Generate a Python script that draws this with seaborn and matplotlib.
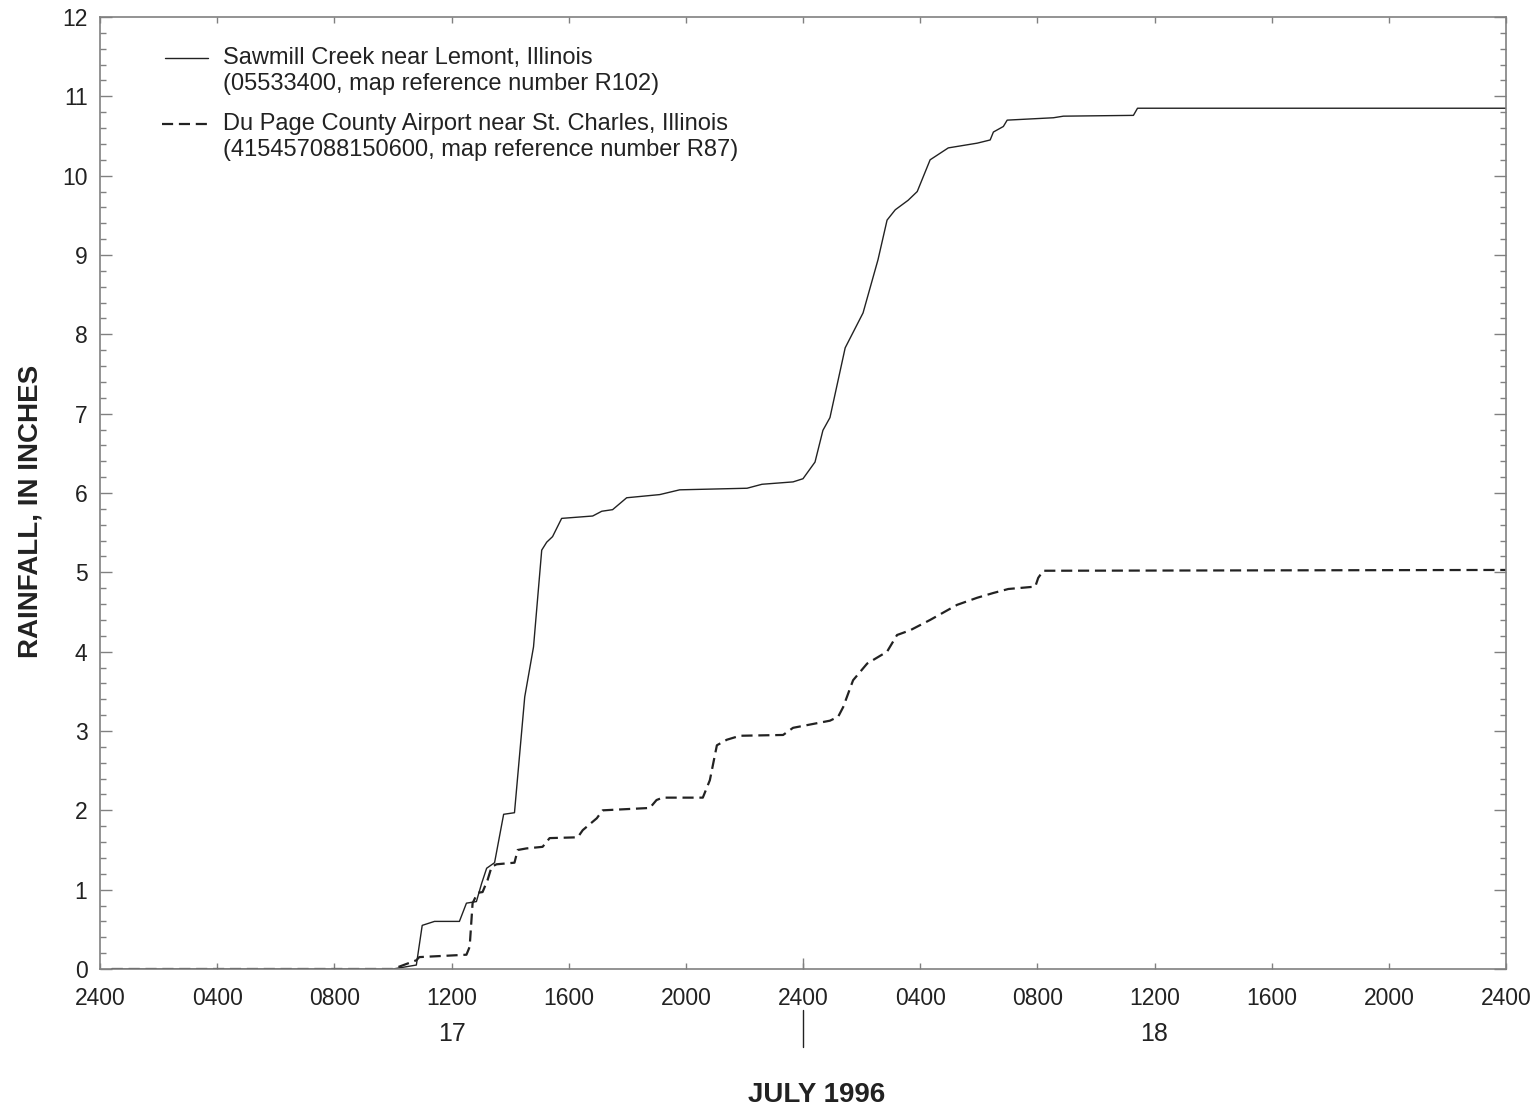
import numpy as np
import pandas as pd
import matplotlib
matplotlib.use('Agg')
import matplotlib.pyplot as plt
import seaborn as sns
from matplotlib.lines import Line2D
from matplotlib.ticker import MultipleLocator, FixedLocator
import matplotlib.transforms as mtransforms

# %%
# data: hours since 2400 July 16, cumulative rainfall in inches
sawmill_hours = [0.4, 10.0, 10.8, 11.0, 11.42, 12.27, 12.51, 12.85, 13.03, 13.2,
                 13.47, 13.78, 14.15, 14.5, 14.8, 15.08, 15.25, 15.45, 15.76, 16.82,
                 17.13, 17.5, 17.98, 19.11, 19.79, 22.09, 22.6, 23.66, 24.0, 24.41,
                 24.68, 24.92, 25.44, 26.05, 26.56, 26.87, 27.15, 27.59, 27.9, 28.34,
                 28.96, 29.95, 30.39, 30.5, 30.84, 30.97, 32.55, 32.89, 35.28, 35.42, 48.0]
sawmill_rain = [0, 0, 0.05, 0.55, 0.6, 0.6, 0.83, 0.85, 1.08, 1.27,
                1.34, 1.95, 1.97, 3.43, 4.06, 5.28, 5.38, 5.45, 5.68, 5.71,
                5.77, 5.79, 5.94, 5.98, 6.04, 6.06, 6.11, 6.14, 6.18, 6.39,
                6.79, 6.95, 7.83, 8.27, 8.94, 9.44, 9.57, 9.69, 9.8, 10.2,
                10.35, 10.41, 10.45, 10.55, 10.62, 10.7, 10.73, 10.75, 10.76, 10.85, 10.85]

dupage_hours = [0.4, 10.0, 10.8, 10.9, 12.51, 12.62, 12.72, 12.89, 13.06, 13.23,
                13.37, 13.54, 14.15, 14.26, 14.56, 15.11, 15.35, 16.31, 16.48, 16.96,
                17.16, 18.77, 19.0, 19.21, 20.58, 20.82, 21.06, 21.4, 21.85, 23.32,
                23.66, 24.92, 25.2, 25.37, 25.71, 26.19, 26.87, 27.21, 27.66, 28.34,
                29.26, 29.95, 30.5, 31.01, 31.93, 32.03, 32.2, 48.0]
dupage_rain = [0, 0, 0.11, 0.15, 0.18, 0.28, 0.83, 0.96, 0.97, 1.12,
               1.29, 1.32, 1.34, 1.5, 1.52, 1.54, 1.65, 1.66, 1.75, 1.9,
               2.0, 2.03, 2.13, 2.16, 2.16, 2.38, 2.82, 2.89, 2.94, 2.95,
               3.04, 3.13, 3.18, 3.3, 3.64, 3.85, 4.0, 4.21, 4.27, 4.4,
               4.59, 4.68, 4.74, 4.79, 4.82, 4.93, 5.02, 5.03]

x_ticks = list(range(0, 49, 4))
x_ticklabels = ['2400', '0400', '0800', '1200', '1600', '2000', '2400',
                '0400', '0800', '1200', '1600', '2000', '2400']
day_labels = ['17', '18']
day_centers = [12, 36]

sawmill_label = ['Sawmill Creek near Lemont, Illinois',
                 '(05533400, map reference number R102)']
dupage_label = ['Du Page County Airport near St. Charles, Illinois',
                '(415457088150600, map reference number R87)']

# %%
sns.set_style('ticks')
plt.rcParams['font.family'] = ['Liberation Sans', 'DejaVu Sans']

ink = '#222222'
spine = '#808080'

df_saw = pd.DataFrame({'hours': sawmill_hours, 'rain': sawmill_rain})
df_dup = pd.DataFrame({'hours': dupage_hours, 'rain': dupage_rain})

fig = plt.figure(figsize=(15.35, 11.1), dpi=100)
ax = fig.add_axes([100 / 1535, 141 / 1110, 1406 / 1535, 952 / 1110])

sns.lineplot(data=df_saw, x='hours', y='rain', ax=ax, color=ink, linewidth=1.0,
             estimator=None, sort=False)
sns.lineplot(data=df_dup, x='hours', y='rain', ax=ax, color=ink, linewidth=1.6,
             linestyle=(0, (5.0, 2.6)), estimator=None, sort=False)

ax.set_xlim(0, 48)
ax.set_ylim(0, 12)
ax.set_xlabel('')
ax.set_ylabel('')

for s in ax.spines.values():
    s.set_color(spine)
    s.set_linewidth(1.2)

ax.set_xticks(x_ticks)
ax.set_xticklabels(x_ticklabels)
ax.xaxis.remove_overlapping_locs = False
ax.xaxis.set_minor_locator(FixedLocator([24]))
ax.yaxis.set_major_locator(MultipleLocator(1))
ax.yaxis.set_minor_locator(MultipleLocator(0.2))

ax.tick_params(axis='x', which='major', direction='in', length=4.5, width=1.0,
               color=spine, top=True, bottom=True, labelsize=16.5, pad=13, labelcolor=ink)
ax.tick_params(axis='x', which='minor', direction='in', length=8, width=1.0,
               color=spine, top=False, bottom=True)
ax.tick_params(axis='y', which='major', direction='in', length=8.5, width=1.0,
               color=spine, left=True, right=True, labelsize=16.5, pad=9, labelcolor=ink)
ax.tick_params(axis='y', which='minor', direction='in', length=4.3, width=1.0,
               color=spine, left=True, right=True)

# day labels and the separator under the axis
trans = mtransforms.blended_transform_factory(ax.transData, ax.transAxes)
for d, c in zip(day_labels, day_centers):
    ax.text(c, -65 / 952, d, transform=trans, ha='center', va='center',
            fontsize=18, color=ink)
ax.add_line(Line2D([24, 24], [-41 / 952, -78 / 952], transform=trans, color=ink,
                   linewidth=1.0, clip_on=False))

# legend drawn by hand so the line sits beside the first row
def ax_x(px):
    return (px - 100) / 1406

def ax_y(py):
    return (969 - py) / 952

ax.add_line(Line2D([ax_x(165), ax_x(208)], [ax_y(58), ax_y(58)], transform=ax.transAxes,
                   color=ink, linewidth=1.0))
ax.add_line(Line2D([ax_x(162), ax_x(208)], [ax_y(124), ax_y(124)], transform=ax.transAxes,
                   color=ink, linewidth=1.6, linestyle=(0, (5.0, 2.6))))
for lbl, y0 in [(sawmill_label, 58), (dupage_label, 124)]:
    ax.text(ax_x(223), ax_y(y0), lbl[0], transform=ax.transAxes, ha='left',
            va='center', fontsize=17, color=ink)
    ax.text(ax_x(223), ax_y(y0 + 26), lbl[1], transform=ax.transAxes, ha='left',
            va='center', fontsize=17, color=ink)

fig.text(31 / 1535, 1 - 511 / 1110, 'RAINFALL, IN INCHES', rotation=90, ha='center',
         va='center', fontsize=20, fontweight='bold', color=ink)
fig.text(817 / 1535, 1 - 1095 / 1110, 'JULY 1996', ha='center', va='center',
         fontsize=20, fontweight='bold', color=ink)

fig.savefig('out.png', dpi=100)
